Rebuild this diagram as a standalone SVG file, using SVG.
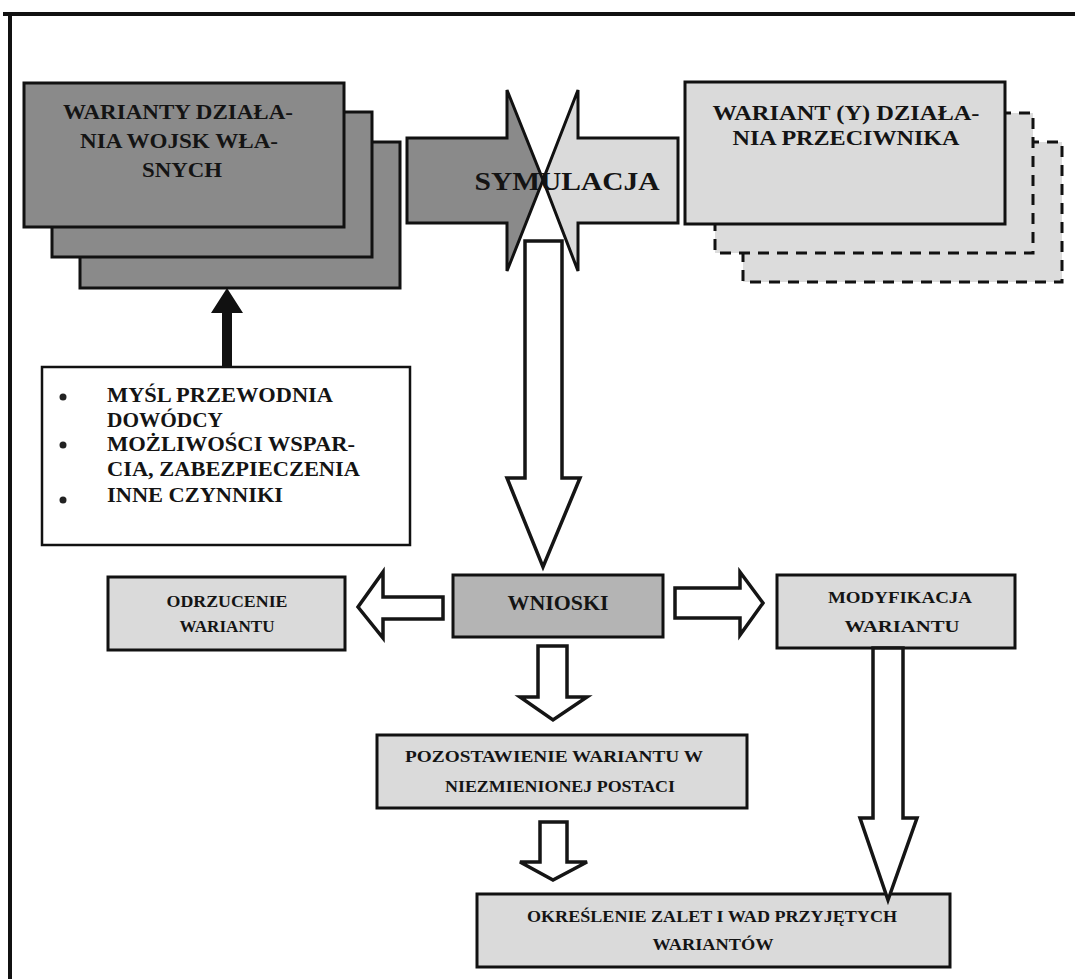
<svg xmlns="http://www.w3.org/2000/svg" width="1075" height="979" viewBox="0 0 1075 979">
<style>
  .t { font-family: "Liberation Serif", "Times New Roman", serif; font-weight: bold; fill: #141414; }
  .dark { fill: #8a8a8a; stroke: #111; stroke-width: 3; }
  .light { fill: #dadada; stroke: #111; stroke-width: 3; }
  .mid { fill: #b4b4b4; stroke: #111; stroke-width: 3; }
  .dash { fill: #dcdcdc; stroke: #111; stroke-width: 3; stroke-dasharray: 11 8; }
  .white { fill: #ffffff; stroke: #111; stroke-width: 2.5; }
  .outl { fill: #ffffff; stroke: #151515; stroke-width: 3.5; stroke-linejoin: miter; }
</style>
<rect width="1075" height="979" fill="#ffffff"/>
<g id="frame">
  <line x1="3" y1="14" x2="1075" y2="14" stroke="#111" stroke-width="4"/>
  <line x1="10" y1="12" x2="10" y2="979" stroke="#111" stroke-width="4"/>
</g>

<g id="warianty-wlasne">
  <rect class="dark" x="80" y="142" width="320" height="146"/>
  <rect class="dark" x="52" y="112" width="320" height="145"/>
  <rect class="dark" x="24" y="83" width="320" height="144"/>
  <text class="t" font-size="22" x="178" y="119" text-anchor="middle" textLength="230" lengthAdjust="spacingAndGlyphs">WARIANTY DZIAŁA-</text>
  <text class="t" font-size="22" x="179" y="148" text-anchor="middle" textLength="198" lengthAdjust="spacingAndGlyphs">NIA WOJSK WŁA-</text>
  <text class="t" font-size="22" x="182" y="177" text-anchor="middle" textLength="80" lengthAdjust="spacingAndGlyphs">SNYCH</text>
</g>

<g id="warianty-przeciwnika">
  <rect class="dash" x="743" y="142" width="319" height="140"/>
  <rect class="dash" x="715" y="113" width="318" height="140"/>
  <rect class="light" x="685" y="82" width="320" height="142"/>
  <text class="t" font-size="22" x="846" y="120" text-anchor="middle" textLength="267" lengthAdjust="spacingAndGlyphs">WARIANT (Y) DZIAŁA-</text>
  <text class="t" font-size="22" x="846" y="145" text-anchor="middle" textLength="227" lengthAdjust="spacingAndGlyphs">NIA PRZECIWNIKA</text>
</g>

<g id="symulacja">
  <polygon class="dark" points="407,138 507,138 507,90 543,180 507,271 507,223 407,223"/>
  <polygon class="light" points="678,138 578,138 578,90 543,180 578,271 578,223 678,223"/>
  <text class="t" font-size="26" x="567" y="190" text-anchor="middle" textLength="185" lengthAdjust="spacingAndGlyphs">SYMULACJA</text>
</g>

<g id="czynniki">
  <rect class="white" x="42" y="367" width="368" height="178"/>
  <circle cx="63" cy="397" r="3.5" fill="#222"/>
  <circle cx="63" cy="445" r="3.5" fill="#222"/>
  <circle cx="63" cy="500" r="3.5" fill="#222"/>
  <text class="t" font-size="21" x="107" y="402" textLength="226" lengthAdjust="spacingAndGlyphs">MYŚL PRZEWODNIA</text>
  <text class="t" font-size="21" x="107" y="427" textLength="116" lengthAdjust="spacingAndGlyphs">DOWÓDCY</text>
  <text class="t" font-size="21" x="107" y="451" textLength="248" lengthAdjust="spacingAndGlyphs">MOŻLIWOŚCI WSPAR-</text>
  <text class="t" font-size="21" x="107" y="476" textLength="253" lengthAdjust="spacingAndGlyphs">CIA, ZABEZPIECZENIA</text>
  <text class="t" font-size="21" x="107" y="502" textLength="176" lengthAdjust="spacingAndGlyphs">INNE CZYNNIKI</text>
</g>

<g id="wnioski">
  <rect class="mid" x="453" y="575" width="210" height="62"/>
  <text class="t" font-size="22" x="558" y="610" text-anchor="middle" textLength="101" lengthAdjust="spacingAndGlyphs" fill="#222">WNIOSKI</text>
</g>

<g id="odrzucenie">
  <rect class="light" x="108" y="577" width="237" height="73"/>
  <text class="t" font-size="16" x="227" y="607" text-anchor="middle" textLength="121" lengthAdjust="spacingAndGlyphs">ODRZUCENIE</text>
  <text class="t" font-size="16" x="227" y="632" text-anchor="middle" textLength="95" lengthAdjust="spacingAndGlyphs">WARIANTU</text>
</g>

<g id="modyfikacja">
  <rect class="light" x="777" y="575" width="238" height="73"/>
  <text class="t" font-size="16" x="900" y="603" text-anchor="middle" textLength="144" lengthAdjust="spacingAndGlyphs">MODYFIKACJA</text>
  <text class="t" font-size="16" x="902" y="632" text-anchor="middle" textLength="115" lengthAdjust="spacingAndGlyphs">WARIANTU</text>
</g>

<g id="pozostawienie">
  <rect class="light" x="377" y="735" width="370" height="73"/>
  <text class="t" font-size="17" x="554" y="762" text-anchor="middle" textLength="298" lengthAdjust="spacingAndGlyphs">POZOSTAWIENIE WARIANTU W</text>
  <text class="t" font-size="17" x="560" y="792" text-anchor="middle" textLength="230" lengthAdjust="spacingAndGlyphs">NIEZMIENIONEJ POSTACI</text>
</g>

<g id="okreslenie">
  <rect class="light" x="477" y="894" width="473" height="73"/>
  <text class="t" font-size="17" x="712" y="922" text-anchor="middle" textLength="370" lengthAdjust="spacingAndGlyphs">OKREŚLENIE ZALET I WAD PRZYJĘTYCH</text>
  <text class="t" font-size="17" x="713" y="950" text-anchor="middle" textLength="121" lengthAdjust="spacingAndGlyphs">WARIANTÓW</text>
</g>

<g id="connectors">
  <polygon fill="#111" points="227,288 243,313 232,313 232,367 222,367 222,313 211,313"/>
  <polygon class="outl" points="525,241 562,241 562,478 580,478 543,567 507,478 525,478"/>
  <polygon class="outl" points="443,597 383,597 383,572 358,607 383,638 383,619 443,619"/>
  <polygon class="outl" points="675,588 740,588 740,572 763,603 740,635 740,618 675,618"/>
  <polygon class="outl" points="538,646 567,646 567,697 587,697 553,720 520,697 538,697"/>
  <polygon class="outl" points="540,822 567,822 567,862 587,862 553,880 520,862 540,862"/>
  <polygon class="outl" points="873,648 903,648 903,818 917,818 888,900 860,818 873,818"/>
</g>
</svg>
